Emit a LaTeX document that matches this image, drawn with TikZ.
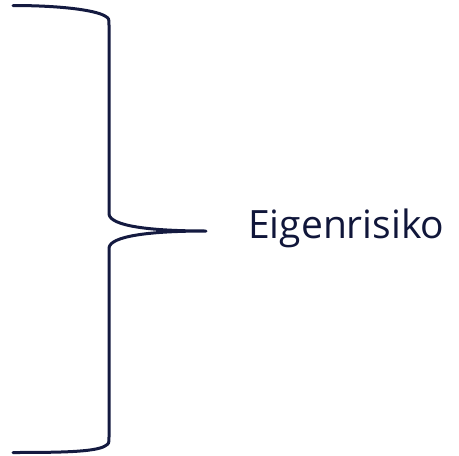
\documentclass[tikz,border=0pt]{standalone}
\usepackage{fontspec}
\setmainfont{Open Sans}
\definecolor{bracecol}{HTML}{141A40}
\definecolor{textcol}{HTML}{10163A}
\begin{document}
\begin{tikzpicture}[x=1pt,y=-1pt,
  bracestyle/.style={draw=bracecol,line width=3pt,line cap=round,line join=round},
  labelstyle/.style={font=\fontsize{39}{42}\selectfont,text=textcol,inner sep=0pt,anchor=base west}]
\useasboundingbox (0,0) rectangle (459,456);
\coordinate (top) at (13,5.5);
\coordinate (bot) at (13,452.5);
\coordinate (tip) at (206,231);
\node[labelstyle] (lbl) at (248,238) {Eigenrisiko};
\draw[bracestyle] (top) .. controls (60,5.5) and (95,10) .. (105,16) .. controls (109,18.5) .. (109,25)
  -- (109,214) .. controls (110,226) and (150,231) .. (tip)
  .. controls (150,231) and (110,236) .. (109,248)
  -- (109,437) .. controls (109,443.5) .. (105,446) .. controls (95,452) and (60,452.5) .. (bot);
\end{tikzpicture}
\end{document}
